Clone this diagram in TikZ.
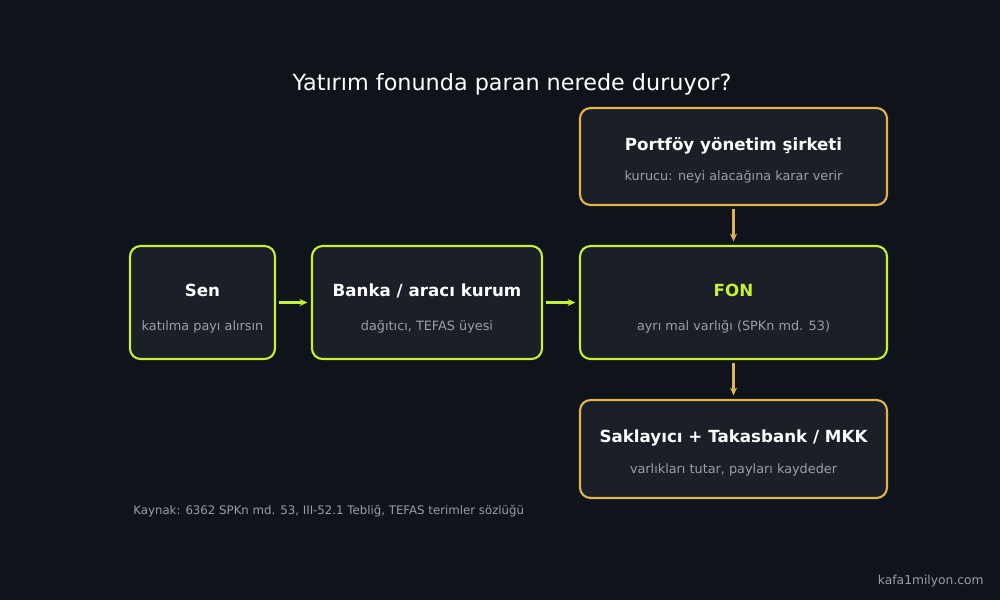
\documentclass[tikz,border=0pt]{standalone}
\usepackage{fontspec}
\setmainfont{DejaVu Sans}
\usetikzlibrary{arrows.meta, positioning, calc}
\definecolor{bg}{HTML}{0F131A}
\definecolor{boxfill}{HTML}{1B1F27}
\definecolor{lime}{HTML}{C6F135}
\definecolor{amber}{HTML}{E0B450}
\definecolor{subgray}{HTML}{9AA0A6}

\begin{document}
\begin{tikzpicture}[x=0.02cm, y=-0.02cm,
    box/.style={rectangle, draw, line width=1.2pt, fill=boxfill, rounded corners=6pt, minimum height=#1*0.02cm},
    head/.style={font=\fontsize{9.5}{11}\selectfont\bfseries, text=white},
    sub/.style={font=\fontsize{7.3}{9}\selectfont, text=subgray},
    flow/.style={-{Stealth[length=4.5pt,width=4pt]}, line width=1.3pt, shorten >=2pt, shorten <=1.5pt}]

    % Background
    \fill[bg] (0,0) rectangle (1000,600);
    \useasboundingbox (0,0) rectangle (1000,600);

    \node[text=white, font=\fontsize{12.7}{15}\selectfont] (title) at (512,84) {Yatırım fonunda paran nerede duruyor?};

    % Boxes
    \node[box=113, draw=lime, minimum width=145*0.02cm] (sen) at (202.5,302.5) {};
    \node[box=113, draw=lime, minimum width=230*0.02cm] (banka) at (427,302.5) {};
    \node[box=113, draw=lime, minimum width=307*0.02cm] (fon) at (733.5,302.5) {};
    \node[box=97, draw=amber, minimum width=307*0.02cm] (pys) at (733.5,156.5) {};
    \node[box=98, draw=amber, minimum width=307*0.02cm] (sakla) at (733.5,449) {};

    % Texts
    \node[head] (sen-t) at (202.5,290) {Sen};
    \node[sub] (sen-s) at (202.5,327) {katılma payı alırsın};
    \node[head] (banka-t) at (427,291) {Banka / aracı kurum};
    \node[sub] (banka-s) at (427,327) {dağıtıcı, TEFAS üyesi};
    \node[head, text=lime] (fon-t) at (733.5,290) {FON};
    \node[sub] (fon-s) at (733.5,327) {ayrı mal varlığı (SPKn md. 53)};
    \node[head] (pys-t) at (733.5,146) {Portföy yönetim şirketi};
    \node[sub] (pys-s) at (733.5,177) {kurucu: neyi alacağına karar verir};
    \node[head] (sakla-t) at (733.5,438) {Saklayıcı + Takasbank / MKK};
    \node[sub] (sakla-s) at (733.5,470) {varlıkları tutar, payları kaydeder};

    % Connectors
    \draw[flow, lime] (sen) -- (banka);
    \draw[flow, lime] (banka) -- (fon);
    \draw[flow, amber] (pys) -- (fon);
    \draw[flow, amber] (fon) -- (sakla);

    \node[sub, font=\fontsize{6.7}{8}\selectfont, anchor=west, inner sep=0pt] (src) at (133,511) {Kaynak: 6362 SPKn md. 53, III-52.1 Tebliğ, TEFAS terimler sözlüğü};
    \node[sub, font=\fontsize{7}{8}\selectfont, anchor=east, inner sep=0pt] (site) at (984,581) {kafa1milyon.com};
\end{tikzpicture}
\end{document}
